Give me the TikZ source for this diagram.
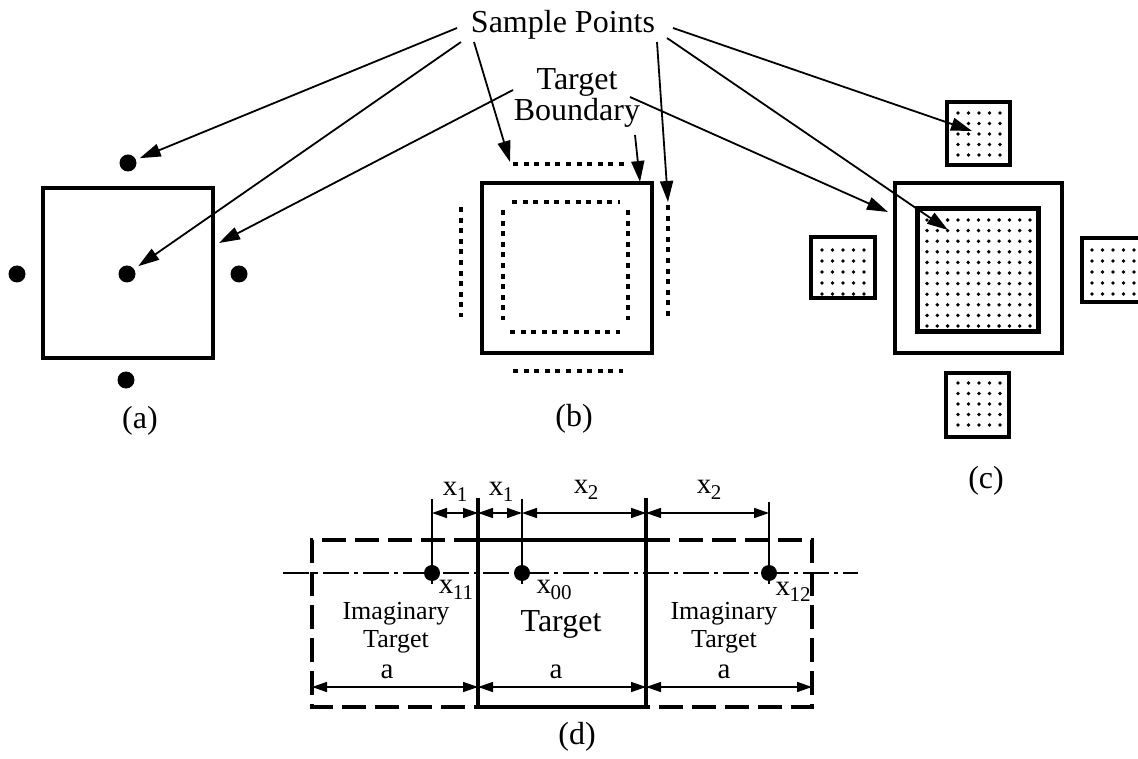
\documentclass[tikz,border=0pt]{standalone}
\usepackage{fontspec}
\setmainfont{Liberation Serif}
\usetikzlibrary{arrows.meta}
\newcommand\xsb[1]{x\kern-0.5pt\raisebox{-6pt}{\fontsize{21}{21}\selectfont #1}}
\begin{document}
\begin{tikzpicture}[x=1pt,y=-1pt,
  big/.style={font=\fontsize{32}{28}\selectfont, inner sep=0, align=center},
  mid/.style={font=\fontsize{29}{28}\selectfont, inner sep=0},
  sml/.style={font=\fontsize{26}{28}\selectfont, inner sep=0, align=center},
  ptr/.style={line width=1.8pt, -{Triangle[length=21pt,width=13pt]}},
  sdot/.style={circle, fill, inner sep=0, minimum size=17pt},
  ddot/.style={circle, fill, inner sep=0, minimum size=16pt},
  sq/.style={draw, line width=3.5pt, inner sep=0},
  sqc/.style={draw, line width=4.5pt, inner sep=0},
  dotrow/.style={line width=4.5pt, dash pattern=on 5pt off 5.6pt},
  dim/.style={line width=1.5pt, {Triangle[length=15pt,width=10pt]}-{Triangle[length=15pt,width=10pt]}},
  ext/.style={line width=1.5pt},
  cline/.style={line width=1.5pt, dash pattern=on 26pt off 5pt on 4pt off 5pt},
  dbox/.style={line width=4pt, dash pattern=on 24pt off 9pt},
  tbox/.style={line width=3.5pt}
]
\useasboundingbox (0,0) rectangle (1138,759);

% ---------- top labels ----------
\node[big, anchor=base] (sp) at (563,33) {Sample Points};
\node[big] (tb) at (577,98) {Target\\Boundary};

% ---------- panel (a) ----------
\node[sq, minimum width=170pt, minimum height=170pt] (asq) at (128,273) {};
\node[sdot] (atop) at (128,163) {};
\node[sdot] (actr) at (127,274) {};
\node[sdot] (alft) at (17,274) {};
\node[sdot] (argt) at (239,274) {};
\node[sdot] (abot) at (126,380) {};
\node[big] (la) at (140,421) {(a)};

% ---------- panel (b) ----------
\node[sq, minimum width=170pt, minimum height=170pt] (bsq) at (567,268) {};
\draw[dotrow] (513,164) -- (625,164);
\draw[dotrow] (513,371) -- (623,371);
\draw[dotrow] (461,207) -- (461,317);
\draw[dotrow] (668,205) -- (668,317);
\draw[dotrow] (512,202) -- (620,202);
\draw[dotrow] (510,332) -- (620,332);
\draw[dotrow] (503,210) -- (503,320);
\draw[dotrow] (628,210) -- (628,320);
\node[big] (lb) at (574,419) {(b)};

% ---------- panel (c) ----------
\node[sq, line width=4pt, minimum width=167pt, minimum height=170pt] (cout) at (978.5,268) {};
\node[sqc, line width=5pt, minimum width=121pt, minimum height=123pt] (cin) at (977.5,270.5) {};
\node[sqc, minimum width=63pt, minimum height=63pt] (ctop) at (978.5,133.5) {};
\node[sqc, minimum width=64pt, minimum height=61pt] (clft) at (843,267.5) {};
\node[sqc, minimum width=63pt, minimum height=64pt] (cbot) at (977.5,405) {};
\draw[line width=4.5pt] (1140,238) -- (1082,238) -- (1082,302) -- (1140,302);
\foreach \xx in {927,937.3,...,1032} \foreach \yy in {220,230.6,...,328} \fill (\xx,\yy) circle (1.9pt);
\foreach \xx in {958,968.5,...,1002} \foreach \yy in {113,123.5,...,160} \fill (\xx,\yy) circle (1.9pt);
\foreach \xx in {822,832.5,...,866} \foreach \yy in {250,261,...,296} \fill (\xx,\yy) circle (1.9pt);
\foreach \xx in {958,968.5,...,1002} \foreach \yy in {383,393.5,...,430} \fill (\xx,\yy) circle (1.9pt);
\foreach \xx in {1092,1102.5,...,1136} \foreach \yy in {250,261,...,298} \fill (\xx,\yy) circle (1.9pt);
\node[big] (lc) at (986,481) {(c)};

% ---------- arrows from labels ----------
\coordinate (s1) at (457,28);
\coordinate (s2) at (461,42);
\coordinate (s3) at (474,42);
\coordinate (s4) at (657,42);
\coordinate (s5) at (673,28);
\coordinate (s6) at (667,38);
\coordinate (t1) at (513,90);
\coordinate (t2) at (635,135);
\coordinate (t3) at (630,97);
\coordinate (a3t) at (219,243);
\coordinate (b1t) at (510,162);
\coordinate (b2t) at (640,182);
\coordinate (b3t) at (668,202);
\coordinate (c1t) at (972,131);
\coordinate (c2t) at (948,230);
\coordinate (c3t) at (888,212);
\draw[ptr, shorten >=4pt] (s1) -- (atop);
\draw[ptr, shorten >=5pt] (s2) -- (actr);
\draw[ptr] (t1) -- (a3t);
\draw[ptr] (s3) -- (b1t);
\draw[ptr] (t2) -- (b2t);
\draw[ptr] (s4) -- (b3t);
\draw[ptr] (s5) -- (c1t);
\draw[ptr] (s6) -- (c2t);
\draw[ptr] (t3) -- (c3t);

% ---------- panel (d) ----------
\draw[dbox] (478,540) -- (312,540) -- (312,707) -- (478,707);
\draw[dbox] (646,540) -- (812,540) -- (812,707) -- (646,707);
\draw[tbox] (478,540) -- (646,540);
\draw[tbox] (478,707) -- (646,707);
\draw[tbox] (478,498) -- (478,709);
\draw[tbox] (646,498) -- (646,709);
\draw[cline] (283,573) -- (858,573);
\node[ddot] (d11) at (432,573) {};
\node[ddot] (d00) at (522,573) {};
\node[ddot] (d12) at (769,573) {};
\coordinate (e11) at (432,499);
\coordinate (e00) at (522,499);
\coordinate (e12) at (769,502);
\coordinate (f11) at (432,584);
\coordinate (f00) at (522,584);
\coordinate (f12) at (769,584);
\draw[ext] (e11) -- (f11);
\draw[ext] (e00) -- (f00);
\draw[ext] (e12) -- (f12);
\coordinate (m1) at (432,513);
\coordinate (m2) at (478,513);
\coordinate (m3) at (522,513);
\coordinate (m4) at (646,513);
\coordinate (m5) at (769,513);
\draw[dim] (m1) -- (m2);
\draw[dim] (m2) -- (m3);
\draw[dim] (m3) -- (m4);
\draw[dim] (m4) -- (m5);
\coordinate (n1) at (312,687);
\coordinate (n2) at (478,687);
\coordinate (n3) at (646,687);
\coordinate (n4) at (812,687);
\draw[dim] (n1) -- (n2);
\draw[dim] (n2) -- (n3);
\draw[dim] (n3) -- (n4);
\node[mid] (lx1a) at (455,492) {\xsb{1}};
\node[mid] (lx1b) at (501,492) {\xsb{1}};
\node[mid] (lx2a) at (586,490) {\xsb{2}};
\node[mid] (lx2b) at (709,490) {\xsb{2}};
\node[mid] (lx11) at (456,590) {\xsb{11}};
\node[mid] (lx00) at (554,590) {\xsb{00}};
\node[mid] (lx12) at (793,592) {\xsb{12}};
\node[mid] (la1) at (387,672) {a};
\node[mid] (la2) at (556,672) {a};
\node[mid] (la3) at (724,672) {a};
\node[sml] (im1) at (396,628) {Imaginary\\Target};
\node[sml] (im2) at (724,628) {Imaginary\\Target};
\node[big] (tg) at (561,624) {Target};
\node[big] (ld) at (577,737) {(d)};
\end{tikzpicture}
\end{document}
